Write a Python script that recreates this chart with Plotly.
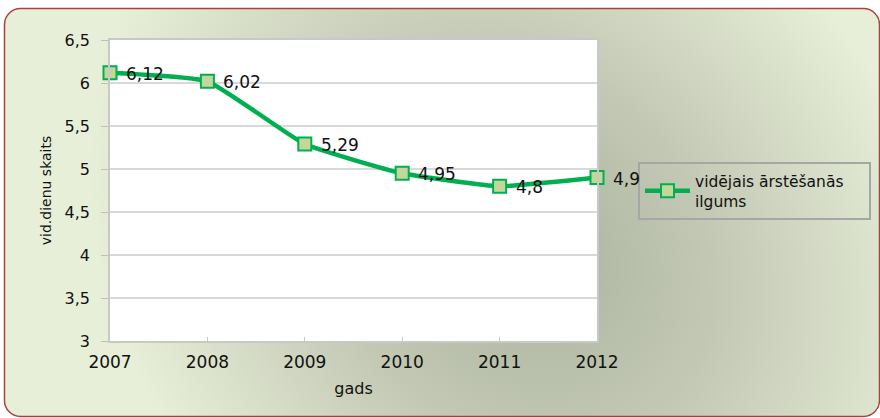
import base64
import plotly.graph_objects as go

years = [2007, 2008, 2009, 2010, 2011, 2012]
values = [6.12, 6.02, 5.29, 4.95, 4.8, 4.9]
labels = ["6,12", "6,02", "5,29", "4,95", "4,8", "4,9"]
series_name = "vidējais ārstēšanās<br>ilgums"
y_title = "vid.dienu skaits"
x_title = "gads"

W, H = 880, 418
L, R, T, B = 110, 283, 40, 77
pw, ph = W - L - R, H - T - B

FONT = "DejaVu Sans"
TXT = "#111111"
GREEN = "#00B050"
FILL = "#C4D79B"

svg = f'''<svg xmlns="http://www.w3.org/2000/svg" width="{W}" height="{H}" viewBox="0 0 {W} {H}">
<defs><radialGradient id="g" gradientUnits="userSpaceOnUse" cx="0" cy="0" r="1" gradientTransform="translate(520 250) rotate(45) scale(470 390)">
<stop offset="0" stop-color="#A9B19C"/><stop offset="0.45" stop-color="#C2C8B3"/><stop offset="1" stop-color="#E8EFD9"/></radialGradient></defs>
<rect width="{W}" height="{H}" fill="#ffffff"/>
<rect x="4.5" y="8.5" width="875" height="408" rx="16" ry="16" fill="url(#g)" stroke="#A5443F" stroke-width="1.5"/>
<rect x="{L}" y="{T}" width="{pw}" height="{ph}" fill="#ffffff"/>
</svg>'''
src = "data:image/svg+xml;base64," + base64.b64encode(svg.encode()).decode()

fig = go.Figure()
fig.add_trace(go.Scatter(
    x=years, y=values, name=series_name,
    mode="lines+markers",
    line=dict(color=GREEN, width=4.5, shape="spline", smoothing=0.4),
    marker=dict(symbol="square", size=13, color=FILL, line=dict(color=GREEN, width=2)),
    cliponaxis=False,
))

for xv, yv, lab in zip(years, values, labels):
    fig.add_annotation(
        x=xv, y=yv, text=lab, showarrow=False,
        xanchor="left", yanchor="middle", xshift=14, yshift=-1,
        font=dict(family=FONT, size=17, color=TXT),
    )

fig.update_layout(
    width=W, height=H,
    margin=dict(l=L, r=R, t=T, b=B, autoexpand=False),
    paper_bgcolor="#ffffff",
    plot_bgcolor="#ffffff",
    separators=", ",
    font=dict(family=FONT, color=TXT),
    showlegend=True,
    legend=dict(
        orientation="h",
        xref="container", yref="container",
        x=638 / W, y=1 - 162 / H, xanchor="left", yanchor="top",
        font=dict(family=FONT, size=15.5, color=TXT),
        bgcolor="rgba(0,0,0,0)", bordercolor="#A6A6A6", borderwidth=2,
        entrywidth=169, entrywidthmode="pixels",
        itemwidth=45,
    ),
    images=[dict(
        source=src, xref="paper", yref="paper",
        x=-L / pw, y=1 + T / ph, sizex=W / pw, sizey=H / ph,
        xanchor="left", yanchor="top", sizing="stretch", layer="below",
    )],
)

fig.update_xaxes(
    range=[2007, 2012], tickvals=years, ticktext=[str(y) for y in years],
    showgrid=False, zeroline=False,
    showline=True, linecolor="#C8C8C8", linewidth=1.5, mirror=True,
    ticks="inside", ticklen=4, tickcolor="#C8C8C8",
    tickfont=dict(family=FONT, size=17, color=TXT),
    ticklabelstandoff=5,
    title=dict(text=x_title, font=dict(family=FONT, size=16, color=TXT), standoff=12),
)
fig.update_yaxes(
    range=[3, 6.5], dtick=0.5, tick0=3,
    showgrid=True, gridcolor="#D9D9D9", gridwidth=1.5, zeroline=False,
    showline=True, linecolor="#C8C8C8", linewidth=1.5, mirror=True,
    ticks="outside", ticklen=7, tickcolor="#BFBFBF",
    tickfont=dict(family=FONT, size=16, color=TXT),
    ticklabelstandoff=8,
    title=dict(text=y_title, font=dict(family=FONT, size=14, color=TXT), standoff=10),
)

fig.write_html("out.html", config={"displayModeBar": False},
               post_script="document.body.style.margin='0px';")
